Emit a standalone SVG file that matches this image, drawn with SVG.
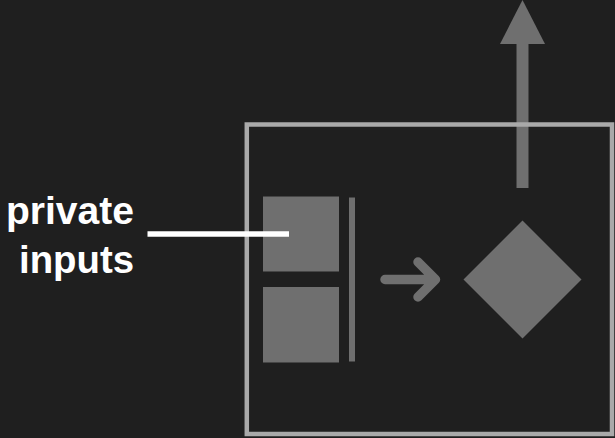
<svg xmlns="http://www.w3.org/2000/svg" width="615" height="438" viewBox="0 0 615 438">
<style>
.shape{fill:#6f6f6f}
.label{font-family:"Liberation Sans",Arial,sans-serif;font-weight:bold;font-size:39px;fill:#ffffff;text-anchor:end}
</style>
<rect width="615" height="438" fill="#1f1f1f"/>
<g id="output-arrow">
<rect class="shape" x="516.5" y="44" width="12" height="144"/>
<polygon class="shape" points="522.5,0 545,44 500,44"/>
</g>
<g id="container">
<rect x="246.8" y="124.5" width="365.2" height="309.5" fill="none" stroke="#a9a9a9" stroke-width="4.5"/>
</g>
<g id="input-1"><rect class="shape" x="263" y="196.5" width="76" height="75"/></g>
<g id="input-2"><rect class="shape" x="263" y="287" width="76" height="75.5"/></g>
<g id="bar"><rect class="shape" x="349" y="197.5" width="6" height="164"/></g>
<g id="diamond"><polygon class="shape" points="522.5,220.5 581.5,279.5 522.5,338.5 463.5,279.5"/></g>
<g id="connectors">
<path d="M385,279.5 H434 M418,262 L435.5,279.5 L418,297" fill="none" stroke="#6f6f6f" stroke-width="9.5" stroke-linecap="round" stroke-linejoin="round"/>
<line x1="147.5" y1="234" x2="289" y2="234" stroke="#ffffff" stroke-width="5.5"/>
</g>
<g id="label">
<text class="label" x="134" y="224" textLength="128" lengthAdjust="spacingAndGlyphs">private</text>
<text class="label" x="134" y="272.5" textLength="115" lengthAdjust="spacingAndGlyphs">inputs</text>
</g>
</svg>
